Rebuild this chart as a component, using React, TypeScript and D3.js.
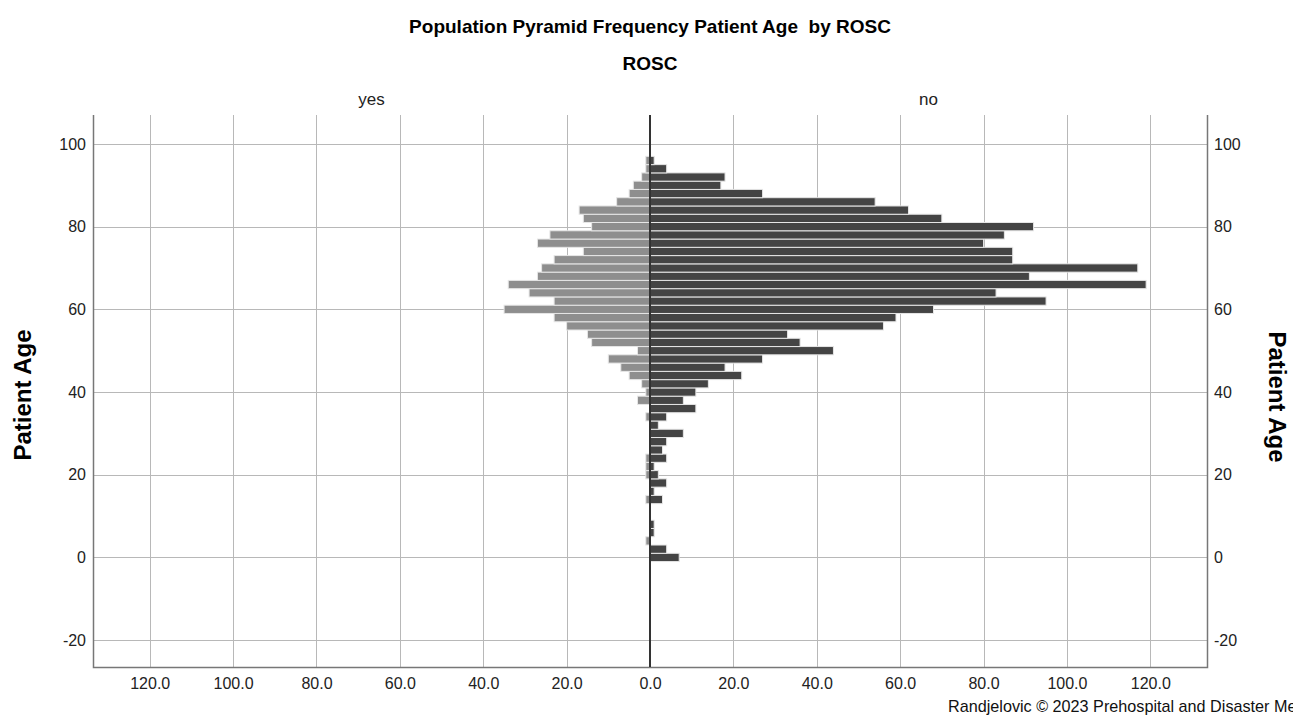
import { useEffect, useRef } from "react";
import * as d3 from "d3";

// age bins (2 years each, centred on even ages)
const ages = [
  0, 2, 4, 6, 8, 10, 12, 14, 16, 18, 20, 22, 24, 26, 28, 30, 32, 34, 36, 38, 40, 42, 44, 46, 48,
  50, 52, 54, 56, 58, 60, 62, 64, 66, 68, 70, 72, 74, 76, 78, 80, 82, 84, 86, 88, 90, 92, 94, 96, 98,
];
// ROSC = yes (left side)
const yesCounts = [
  0, 0, 1, 0, 0, 0, 0, 1, 0, 0, 1, 1, 1, 0, 0, 0, 0, 1, 0, 3, 1, 2, 5, 7, 10,
  3, 14, 15, 20, 23, 35, 23, 29, 34, 27, 26, 23, 16, 27, 24, 14, 16, 17, 8, 5, 4, 2, 1, 1, 0,
];
// ROSC = no (right side)
const noCounts = [
  7, 4, 0, 1, 1, 0, 0, 3, 1, 4, 2, 1, 4, 3, 4, 8, 2, 4, 11, 8, 11, 14, 22, 18, 27,
  44, 36, 33, 56, 59, 68, 95, 83, 119, 91, 117, 87, 87, 80, 85, 92, 70, 62, 54, 27, 17, 18, 4, 1, 0,
];
const xTicks = [0, 20, 40, 60, 80, 100, 120];
const yTicks = [-20, 0, 20, 40, 60, 80, 100];
const groups = ["yes", "no"];

const W = 1293;
const H = 717;
const FONT = "'Liberation Sans', Arial, sans-serif";

function Chart() {
  const ref = useRef<SVGSVGElement>(null);

  useEffect(() => {
    const svg = d3.select(ref.current);
    svg.selectAll("*").remove();

    const left = 93;
    const right = 1207;
    const top = 115;
    const bottom = 667;
    const mid = (left + right) / 2;
    const xMax = 133.6;

    const xYes = d3.scaleLinear().domain([0, xMax]).range([mid, left]); // grows to the left
    const xNo = d3.scaleLinear().domain([0, xMax]).range([mid, right]); // grows to the right
    const y = d3.scaleLinear().domain([-26.5, 107]).range([bottom, top]);

    // grid
    const grid = svg.append("g").attr("stroke", "#b8b8b8").attr("stroke-width", 1);
    grid
      .selectAll("line.h")
      .data(yTicks)
      .join("line")
      .attr("class", "h")
      .attr("x1", left)
      .attr("x2", right)
      .attr("y1", (d) => Math.round(y(d)) + 0.5)
      .attr("y2", (d) => Math.round(y(d)) + 0.5);
    [xYes, xNo].forEach((sc) => {
      grid
        .append("g")
        .selectAll("line")
        .data(xTicks.filter((d) => d > 0))
        .join("line")
        .attr("x1", (d) => Math.round(sc(d)) + 0.5)
        .attr("x2", (d) => Math.round(sc(d)) + 0.5)
        .attr("y1", top)
        .attr("y2", bottom);
    });

    // bars
    const bars = ages.map((a, i) => ({ age: a, yes: yesCounts[i], no: noCounts[i] }));
    svg
      .append("g")
      .selectAll("rect")
      .data(bars.filter((d) => d.yes > 0))
      .join("rect")
      .attr("x", (d) => xYes(d.yes))
      .attr("width", (d) => mid - xYes(d.yes))
      .attr("y", (d) => y(d.age + 1))
      .attr("height", (d) => y(d.age - 1) - y(d.age + 1))
      .attr("fill", "#8e8e8e")
      .attr("stroke", "#e6e6e6")
      .attr("stroke-width", 1);
    svg
      .append("g")
      .selectAll("rect")
      .data(bars.filter((d) => d.no > 0))
      .join("rect")
      .attr("x", mid)
      .attr("width", (d) => xNo(d.no) - mid)
      .attr("y", (d) => y(d.age + 1))
      .attr("height", (d) => y(d.age - 1) - y(d.age + 1))
      .attr("fill", "#444444")
      .attr("stroke", "#e6e6e6")
      .attr("stroke-width", 1);

    // frame (left, bottom, right) + centre line
    svg
      .append("path")
      .attr("d", `M${left + 0.5},${top}V${bottom + 0.5}H${right + 0.5}V${top}`)
      .attr("fill", "none")
      .attr("stroke", "#777")
      .attr("stroke-width", 1.5);
    svg
      .append("line")
      .attr("x1", mid)
      .attr("x2", mid)
      .attr("y1", top)
      .attr("y2", bottom)
      .attr("stroke", "#333")
      .attr("stroke-width", 2);

    // x axes (labels only)
    const fmt = d3.format(".1f");
    svg
      .append("g")
      .attr("transform", `translate(0,${bottom + 8})`)
      .call(d3.axisBottom(xYes).tickValues(xTicks).tickFormat((d) => fmt(+d)).tickSize(0))
      .call((g) => g.select(".domain").remove());
    svg
      .append("g")
      .attr("transform", `translate(0,${bottom + 8})`)
      .call(d3.axisBottom(xNo).tickValues(xTicks.filter((d) => d > 0)).tickFormat((d) => fmt(+d)).tickSize(0))
      .call((g) => g.select(".domain").remove());

    // y axes (labels only, plain hyphen for negatives)
    svg
      .append("g")
      .attr("transform", `translate(${left - 4},0)`)
      .call(d3.axisLeft(y).tickValues(yTicks).tickFormat((d) => String(d)).tickSize(0))
      .call((g) => g.select(".domain").remove());
    svg
      .append("g")
      .attr("transform", `translate(${right + 4},0)`)
      .call(d3.axisRight(y).tickValues(yTicks).tickFormat((d) => String(d)).tickSize(0))
      .call((g) => g.select(".domain").remove());

    svg
      .selectAll(".tick text")
      .attr("font-family", FONT)
      .attr("font-size", 16)
      .attr("fill", "#222");

    // titles
    svg
      .append("text")
      .attr("x", mid)
      .attr("y", 33)
      .attr("text-anchor", "middle")
      .attr("font-family", FONT)
      .attr("font-weight", "bold")
      .attr("font-size", 19)
      .text("Population Pyramid Frequency Patient Age\u00a0 by ROSC");
    svg
      .append("text")
      .attr("x", mid)
      .attr("y", 70)
      .attr("text-anchor", "middle")
      .attr("font-family", FONT)
      .attr("font-weight", "bold")
      .attr("font-size", 19)
      .text("ROSC");
    svg
      .selectAll("text.grp")
      .data(groups)
      .join("text")
      .attr("class", "grp")
      .attr("x", (d) => (d === "yes" ? (left + mid) / 2 : (mid + right) / 2))
      .attr("y", 105)
      .attr("text-anchor", "middle")
      .attr("font-family", FONT)
      .attr("font-size", 17)
      .attr("fill", "#222")
      .text((d) => d);

    // axis titles
    svg
      .append("text")
      .attr("transform", `translate(31,${(top + bottom) / 2 + 4}) rotate(-90)`)
      .attr("text-anchor", "middle")
      .attr("font-family", FONT)
      .attr("font-weight", "bold")
      .attr("font-size", 24)
      .text("Patient Age");
    svg
      .append("text")
      .attr("transform", `translate(1269,${(top + bottom) / 2 + 6}) rotate(90)`)
      .attr("text-anchor", "middle")
      .attr("font-family", FONT)
      .attr("font-weight", "bold")
      .attr("font-size", 24)
      .text("Patient Age");

    // credit line (runs off the right edge, as in the source image)
    svg
      .append("text")
      .attr("x", 948)
      .attr("y", 712)
      .attr("font-family", FONT)
      .attr("font-size", 16.2)
      .attr("fill", "#111")
      .text("Randjelovic \u00a9 2023 Prehospital and Disaster Medicine");
  }, []);

  return (
    <svg
      ref={ref}
      width={W}
      height={H}
      style={{ position: "absolute", left: 0, top: 0, background: "#fff", display: "block" }}
    />
  );
}

export default function App() {
  return <Chart />;
}
